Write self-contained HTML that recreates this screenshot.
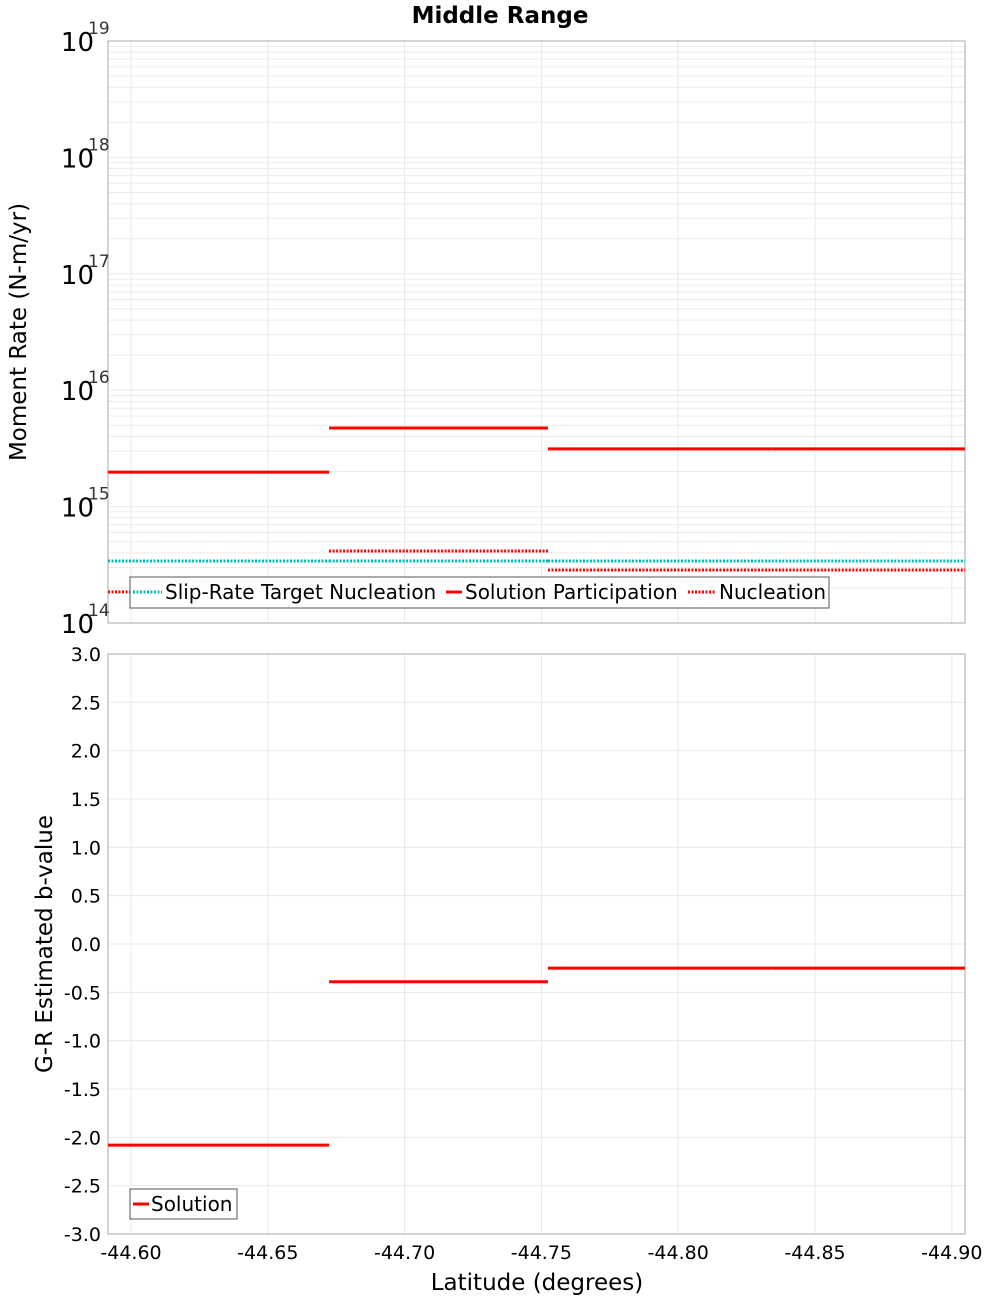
<!DOCTYPE html>
<html><head><meta charset="utf-8"><style>
body{margin:0;background:#fff}
svg text{font-family:"DejaVu Sans","Liberation Sans",sans-serif}
</style></head><body>
<svg id="chart" width="1000" height="1300" xmlns="http://www.w3.org/2000/svg"></svg>
<script>
const boundaries=[-44.5916,-44.6724,-44.7524,-44.8342,-44.9048];
const targetNuc=[3.41e14,3.41e14,3.41e14,3.41e14];
const solPart=[1.98e15,4.73e15,3.13e15,3.13e15];
const solNuc=[1.85e14,4.16e14,2.85e14,2.85e14];
const bValues=[-2.08,-0.39,-0.25,-0.25];
const xTicks=[-44.60,-44.65,-44.70,-44.75,-44.80,-44.85,-44.90];
const yTicksB=[3,2.5,2,1.5,1,0.5,0,-0.5,-1,-1.5,-2,-2.5,-3];
const decades=[14,15,16,17,18,19];

const S=document.getElementById('chart');const NS='http://www.w3.org/2000/svg';
function mk(t,a,p){const e=document.createElementNS(NS,t);for(const k in a)e.setAttribute(k,a[k]);(p||S).appendChild(e);return e;}
const L=108,R=965;
const x=v=>131+(v-(-44.60))/(-0.05)*136.8;
const T1=41,B1=623,yTop=v=>B1-(Math.log10(v)-14)*(B1-T1)/5;
const T2=654,B2=1234,yBot=v=>T2+(3-v)*(B2-T2)/6;

let t=mk('text',{x:500,y:23,'text-anchor':'middle','font-size':23,'font-weight':'bold'});t.textContent='Middle Range';


const g=mk('g',{});
xTicks.forEach(v=>{mk('line',{x1:x(v),x2:x(v),y1:T1,y2:B1,stroke:'#e8e8e8'},g);mk('line',{x1:x(v),x2:x(v),y1:T2,y2:B2,stroke:'#e8e8e8'},g);});
for(let d=14;d<19;d++)for(let m=1;m<10;m++){const yy=yTop(m*Math.pow(10,d));mk('line',{x1:L,x2:R,y1:yy,y2:yy,stroke:'#ececec'},g);}
yTicksB.forEach(v=>mk('line',{x1:L,x2:R,y1:yBot(v),y2:yBot(v),stroke:'#e8e8e8'},g));

let f=mk('rect',{x:L,y:T1,width:R-L,height:B1-T1,fill:'none',stroke:'#aaa'});
f=mk('rect',{x:L,y:T2,width:R-L,height:B2-T2,fill:'none',stroke:'#aaa'});

decades.forEach(d=>{const yy=yTop(Math.pow(10,d));
 const tx=mk('text',{x:94,y:yy+10,'text-anchor':'end','font-size':26});tx.textContent='10';
 
 const ex=mk('text',{x:88,y:yy-7,'font-size':17,fill:'#333'});ex.textContent=String(d);
 });
yTicksB.forEach(v=>{const tx=mk('text',{x:101,y:yBot(v)+7,'text-anchor':'end','font-size':19});tx.textContent=v.toFixed(1);
 });
xTicks.forEach(v=>{const tx=mk('text',{x:x(v),y:1259,'text-anchor':'middle','font-size':19});tx.textContent=v.toFixed(2);
 });

t=mk('text',{x:0,y:0,transform:'translate(26,332) rotate(-90)','text-anchor':'middle','font-size':23});t.textContent='Moment Rate (N-m/yr)';

t=mk('text',{x:0,y:0,transform:'translate(52,944) rotate(-90)','text-anchor':'middle','font-size':23});t.textContent='G-R Estimated b-value';

t=mk('text',{x:537,y:1290,'text-anchor':'middle','font-size':23});t.textContent='Latitude (degrees)';


function segs(arr,yf,color,dash,name){for(let i=0;i<arr.length;i++){
 const l=mk('line',{x1:x(boundaries[i]),x2:x(boundaries[i+1]),y1:yf(arr[i]),y2:yf(arr[i]),stroke:color,'stroke-width':3});
 if(dash)l.setAttribute('stroke-dasharray',dash);
 }}
segs(solNuc,yTop,'#f00','2 1.5','nucleation-segment');
segs(targetNuc,yTop,'#0bb','2 1.5','target-nucleation-segment');
segs(solPart,yTop,'#f00',null,'participation-segment');
segs(bValues,yBot,'#f00',null,'b-value-segment');

const lg=mk('g',{});
mk('rect',{x:130,y:577,width:699,height:31,fill:'#fff',stroke:'#555'},lg);
mk('line',{x1:133,x2:162,y1:592,y2:592,stroke:'#0bb','stroke-width':3,'stroke-dasharray':'2 1.5'},lg);
let lt=mk('text',{x:165,y:599,'font-size':20},lg);lt.textContent='Slip-Rate Target Nucleation';
mk('line',{x1:446,x2:462,y1:592,y2:592,stroke:'#f00','stroke-width':3},lg);
lt=mk('text',{x:465,y:599,'font-size':20},lg);lt.textContent='Solution Participation';
mk('line',{x1:688,x2:716,y1:592,y2:592,stroke:'#f00','stroke-width':3,'stroke-dasharray':'2 1.5'},lg);
lt=mk('text',{x:719,y:599,'font-size':20},lg);lt.textContent='Nucleation';
const lg2=mk('g',{});
mk('rect',{x:130,y:1189,width:107,height:30,fill:'#fff',stroke:'#555'},lg2);
mk('line',{x1:133,x2:149,y1:1204,y2:1204,stroke:'#f00','stroke-width':3},lg2);
lt=mk('text',{x:151,y:1211,'font-size':20},lg2);lt.textContent='Solution';
</script>
</body></html>
